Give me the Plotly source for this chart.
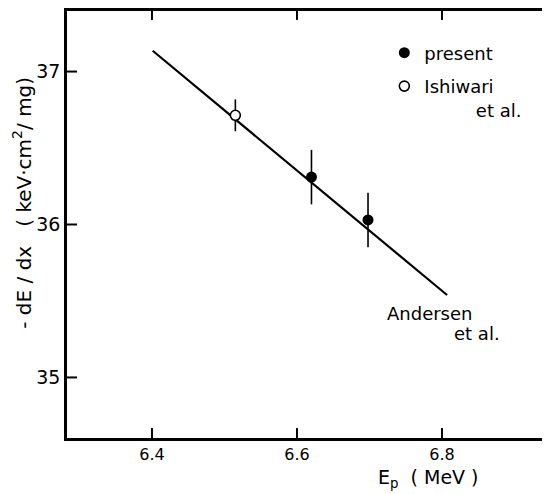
import plotly.graph_objects as go

# Data
present_E = [6.62, 6.698]
present_S = [36.31, 36.03]
present_err = [0.178, 0.178]

ishiwari_E = [6.515]
ishiwari_S = [36.714]
ishiwari_err = [0.104]

andersen_E = [6.401, 6.807]
andersen_S = [37.136, 35.539]

x_ticks = [6.4, 6.6, 6.8]
x_ticklabels = ["6.4", "6.6", "6.8"]
y_ticks = [35, 36, 37]
y_ticklabels = ["35", "36", "37"]

x_range = [6.2828, 6.949]
y_range = [34.604, 37.396]

FONT = "DejaVu Sans"
W, H = 542, 486
M = dict(l=59, r=0, t=0, b=56)

# pixel -> data conversion for inward tick marks
px_x = (x_range[1] - x_range[0]) / (W - M["l"] - M["r"])
px_y = (y_range[1] - y_range[0]) / (H - M["t"] - M["b"])

fig = go.Figure()

# inward tick marks, one small line trace per tick
for xv in x_ticks:
    fig.add_trace(go.Scatter(x=[xv, xv], y=[y_range[0], y_range[0] + 10 * px_y],
                             mode="lines", line=dict(color="black", width=2),
                             showlegend=False, hoverinfo="skip"))
    fig.add_trace(go.Scatter(x=[xv, xv], y=[y_range[1], y_range[1] - 9 * px_y],
                             mode="lines", line=dict(color="black", width=2),
                             showlegend=False, hoverinfo="skip"))
for yv in y_ticks:
    fig.add_trace(go.Scatter(x=[x_range[0], x_range[0] + 10 * px_x], y=[yv, yv],
                             mode="lines", line=dict(color="black", width=2),
                             showlegend=False, hoverinfo="skip"))
    fig.add_trace(go.Scatter(x=[x_range[1], x_range[1] - 4 * px_x], y=[yv, yv],
                             mode="lines", line=dict(color="black", width=2),
                             showlegend=False, hoverinfo="skip"))

fig.add_trace(go.Scatter(
    x=andersen_E, y=andersen_S, mode="lines",
    line=dict(color="black", width=2.2), showlegend=False, hoverinfo="skip"))

fig.add_trace(go.Scatter(
    x=present_E, y=present_S, mode="markers", name="present",
    marker=dict(color="black", size=11, symbol="circle"),
    error_y=dict(type="data", array=present_err, color="black", thickness=1.6, width=0),
    legendgroup="a"))

fig.add_trace(go.Scatter(
    x=ishiwari_E, y=ishiwari_S, mode="markers",
    name="Ishiwari<br>" + "\u00a0" * 9 + "et al.",
    marker=dict(color="white", size=10, symbol="circle",
                line=dict(color="black", width=1.6)),
    error_y=dict(type="data", array=ishiwari_err, color="black", thickness=1.6, width=0),
    legendgroup="b"))

fig.add_annotation(text="Andersen", x=6.7214, y=35.416, xref="x", yref="y",
                   xanchor="left", yanchor="middle", showarrow=False,
                   font=dict(family=FONT, size=18, color="black"))
fig.add_annotation(text="et al.", x=6.8138, y=35.286, xref="x", yref="y",
                   xanchor="left", yanchor="middle", showarrow=False,
                   font=dict(family=FONT, size=18, color="black"))

fig.add_annotation(text="E<sub>p</sub>  ( MeV )", x=0.749, y=-0.095,
                   xref="paper", yref="paper", xanchor="center", yanchor="middle",
                   showarrow=False, font=dict(family=FONT, size=19, color="black"))

fig.add_annotation(text="- dE / dx   ( keV·cm<sup>2</sup>/ mg)", x=-0.092, y=0.55,
                   xref="paper", yref="paper", xanchor="center", yanchor="middle",
                   textangle=-90, showarrow=False,
                   font=dict(family=FONT, size=20, color="black"))

fig.update_layout(
    width=W, height=H,
    margin=M,
    paper_bgcolor="white", plot_bgcolor="white",
    font=dict(family=FONT, color="black"),
    xaxis=dict(range=x_range, tickvals=x_ticks, ticktext=x_ticklabels,
               ticks="", showline=True, linecolor="black", linewidth=2.5, mirror=True,
               showgrid=False, zeroline=False,
               tickfont=dict(family=FONT, size=16)),
    yaxis=dict(range=y_range, tickvals=y_ticks, ticktext=y_ticklabels,
               ticks="", showline=True, linecolor="black", linewidth=2.5,
               showgrid=False, zeroline=False,
               tickfont=dict(family=FONT, size=19)),
    legend=dict(x=0.657, y=0.945, xanchor="left", yanchor="top", valign="top",
                bgcolor="rgba(0,0,0,0)", font=dict(family=FONT, size=18),
                traceorder="grouped", tracegroupgap=7, itemclick=False),
)

fig.write_html("out.html")
